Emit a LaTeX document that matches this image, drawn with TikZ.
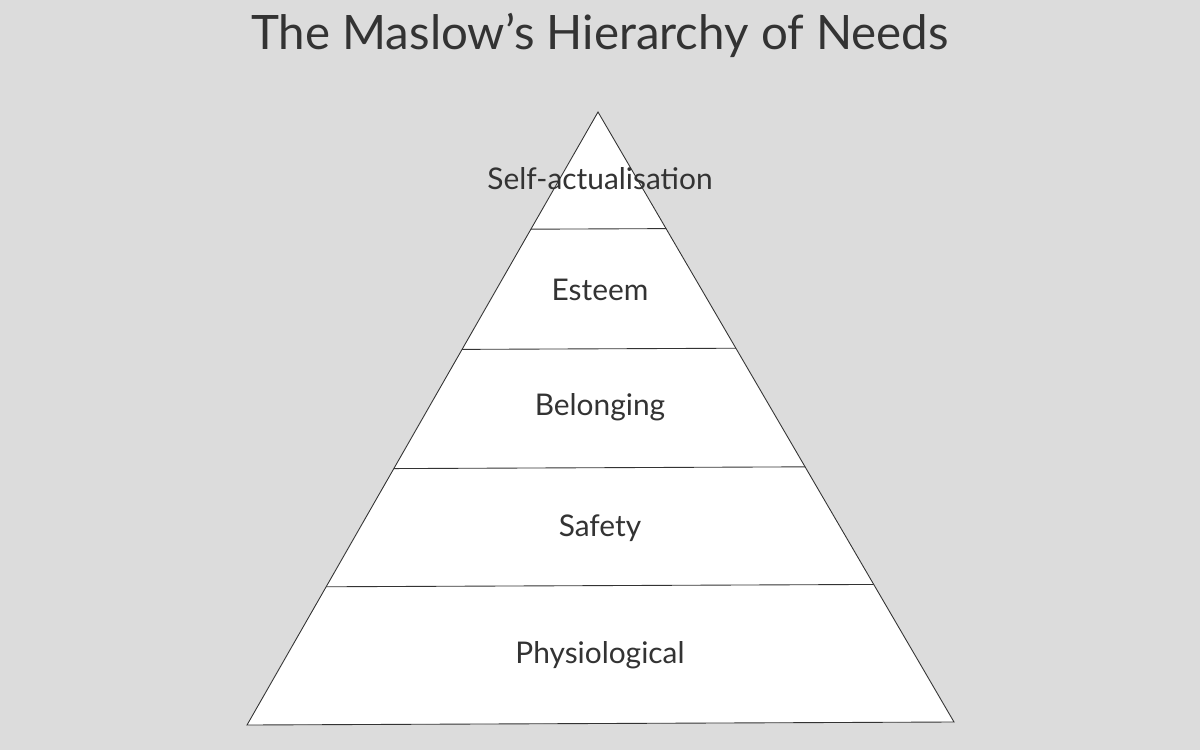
\documentclass[tikz,border=0pt]{standalone}
\usepackage{fontspec}
\setmainfont{Lato}
\usetikzlibrary{calc}
\definecolor{bg}{HTML}{DCDCDC}
\definecolor{ink}{HTML}{333333}
\begin{document}
\begin{tikzpicture}[x=0.02cm,y=-0.02cm,
  lvl/.style={text=ink,font=\fontsize{17}{20}\selectfont},
  edge/.style={draw=ink,line width=0.5pt}]
\fill[bg] (0,0) rectangle (1200,750);
\useasboundingbox (0,0) rectangle (1200,750);
\node[text=ink,font=\fontsize{27}{32}\selectfont] (title) at (600,35) {The Maslow’s Hierarchy of Needs};
\coordinate (apex) at (598,112);
\coordinate (bl) at (247,725);
\coordinate (br) at (954,722);
\filldraw[fill=white,edge] (apex) -- (bl) -- (br) -- cycle;
\foreach \y in {229,349,468,586}{
  \pgfmathsetmacro{\t}{(\y-112)/612}
  \draw[edge] ($(apex)!\t!(bl)$) -- ($(apex)!\t!(br)$);
}
\node[lvl] (sa) at (600,179) {Self-actualisation};
\node[lvl] (es) at (600,290) {Esteem};
\node[lvl] (be) at (600,407) {Belonging};
\node[lvl] (sf) at (600,528) {Safety};
\node[lvl] (ph) at (600,655) {Physiological};
\end{tikzpicture}
\end{document}
